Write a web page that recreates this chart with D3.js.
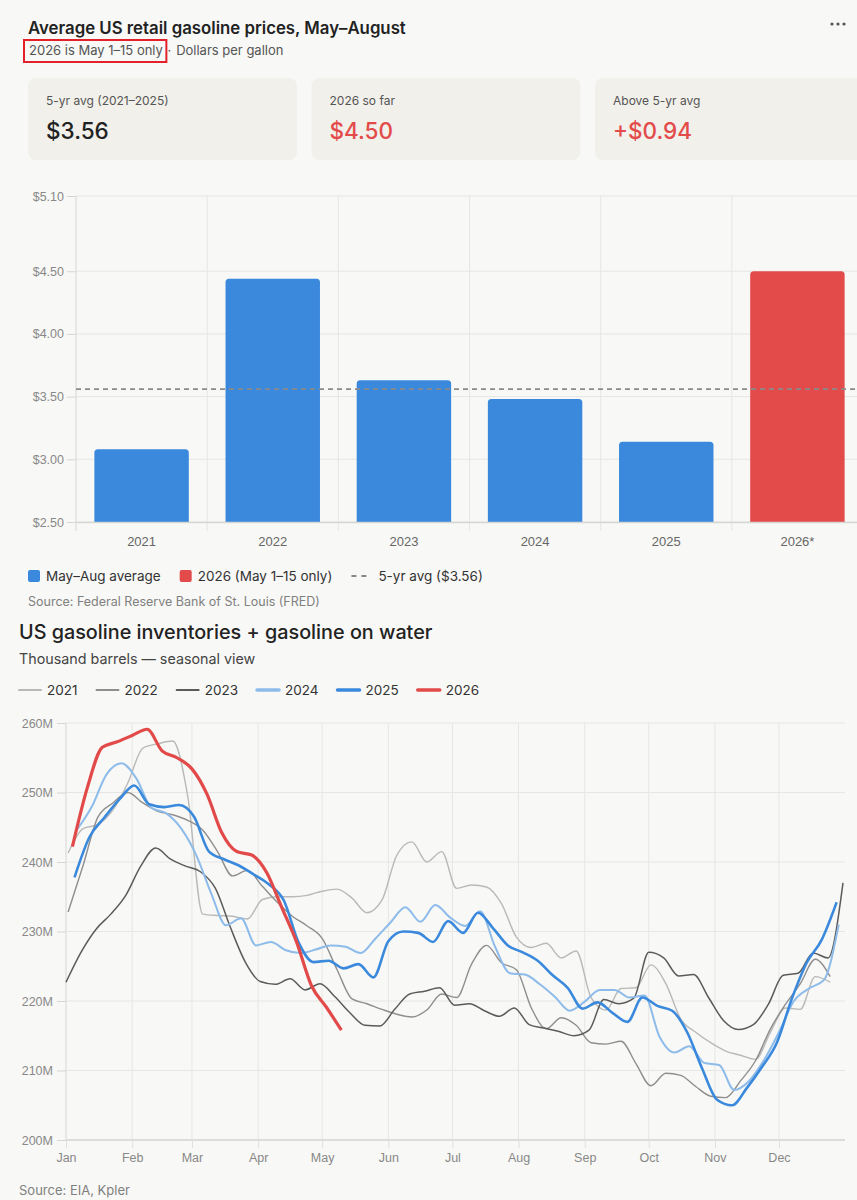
<!DOCTYPE html>
<html>
<head>
<meta charset="utf-8">
<script src="https://cdn.jsdelivr.net/npm/d3@7"></script>
<style>
  body { margin: 0; background: #f8f8f6; }
  svg { display: block; }
  .title { font-family: Inter, "Noto Sans", sans-serif; font-weight: 600; fill: #222; }
  .sub { font-family: Inter, "Noto Sans", sans-serif; fill: #555; }
  .axis text { font-family: "Liberation Sans", Arial, sans-serif; }
</style>
</head>
<body>
<div id="container"></div>
<script>
/* CONSTANTS AND GLOBALS */
const width = 857,
  height = 1200;

// top chart: May-Aug average retail price, $/gal
const barYears = ["2021", "2022", "2023", "2024", "2025", "2026*"];
const barValues = [3.08, 4.44, 3.63, 3.48, 3.14, 4.50];
const fiveYrAvg = 3.56;
const priceTicks = [2.5, 3, 3.5, 4, 4.5, 5.1];

const cardLabels = ["5-yr avg (2021–2025)", "2026 so far", "Above 5-yr avg"];
const cardValues = ["$3.56", "$4.50", "+$0.94"];

// bottom chart: weekly inventories + on water, million barrels
const invYears = ["2021", "2022", "2023", "2024", "2025", "2026"];
const invStartDay = [1, 1, 0, 5, 4, 3];
const inv2021 = [241.3, 244.8, 245.4, 247.5, 251.4, 256.4, 257.0, 257.4, 249.5, 232.5, 232.3, 232.2, 231.8, 234.6, 235.0, 235.0, 235.2, 235.8, 236.1, 234.8, 232.7, 234.5, 241.0, 242.9, 240.0, 241.5, 236.2, 236.7, 236.4, 234.0, 229.2, 227.7, 228.3, 226.2, 227.2, 220.5, 218.7, 221.8, 221.9, 225.2, 222.5, 217.4, 215.5, 214.0, 212.8, 212.2, 211.6, 215.5, 219.0, 218.8, 223.5, 222.7];
const inv2022 = [232.8, 239.5, 246.5, 248.5, 250.0, 248.5, 247.3, 246.8, 246.0, 244.6, 241.5, 238.0, 238.8, 236.5, 234.2, 232.2, 230.8, 229.0, 224.5, 220.3, 219.6, 218.8, 218.1, 217.7, 218.7, 221.0, 220.5, 225.3, 228.0, 225.5, 224.5, 219.0, 216.0, 217.6, 216.5, 214.0, 213.8, 214.2, 211.0, 207.8, 209.6, 209.3, 207.7, 206.3, 206.1, 208.5, 211.4, 216.0, 219.5, 222.5, 226.0, 223.5];
const inv2023 = [222.7, 227.0, 230.3, 232.5, 235.2, 239.4, 242.0, 240.4, 239.4, 238.6, 236.2, 230.6, 225.6, 222.8, 222.4, 223.2, 221.6, 222.5, 220.6, 218.3, 216.5, 216.4, 218.8, 221.0, 221.4, 221.9, 219.4, 219.6, 218.6, 217.8, 219.0, 216.6, 216.1, 215.6, 215.0, 215.8, 220.2, 219.6, 220.4, 227.0, 226.2, 223.6, 223.8, 220.5, 217.2, 215.9, 216.6, 219.5, 223.7, 224.0, 226.9, 226.2, 237.0];
const inv2024 = [244.6, 247.9, 252.6, 254.2, 252.0, 247.8, 247.0, 244.8, 241.0, 235.5, 230.9, 231.9, 228.0, 228.5, 227.3, 226.9, 227.4, 228.0, 227.8, 226.9, 229.0, 231.3, 233.5, 231.4, 233.8, 232.0, 230.8, 232.9, 227.8, 224.0, 223.8, 222.4, 220.6, 218.6, 219.9, 221.6, 221.6, 220.5, 220.8, 214.9, 212.6, 213.5, 211.1, 210.8, 207.2, 208.5, 211.5, 215.5, 220.0, 221.8, 223.0, 231.0];
const inv2025 = [237.8, 243.6, 246.4, 249.0, 251.0, 248.3, 247.9, 248.2, 246.5, 241.5, 240.4, 239.5, 238.2, 236.8, 234.5, 228.4, 225.6, 225.8, 224.7, 225.3, 223.4, 228.6, 230.0, 229.8, 228.5, 231.5, 229.8, 232.7, 230.5, 228.0, 227.0, 225.8, 223.7, 221.9, 218.9, 219.8, 218.3, 217.0, 220.5, 219.3, 218.6, 215.5, 210.3, 205.8, 205.0, 207.5, 210.5, 214.0, 220.3, 225.5, 228.8, 234.2];
const inv2026 = [242.2, 250.7, 256.5, 257.3, 258.2, 259.1, 256.0, 255.0, 253.4, 249.8, 244.2, 241.5, 241.0, 238.5, 233.5, 228.5, 222.2, 219.1, 215.8];
const invTicks = [200, 210, 220, 230, 240, 250, 260];

const invColors = ["#b9b9b9", "#8e8e8e", "#5b5b5b", "#8dbbea", "#3a89dc", "#e24a4a"];
const invWidths = [1.4, 1.4, 1.5, 2, 2.6, 3.2];

const sans = "Inter, 'Noto Sans', sans-serif";
const blue = "#3a89dc", red = "#e34b4b";

/* CREATE SVG ELEMENT */
const svg = d3.select("#container")
  .append("svg")
  .attr("width", width)
  .attr("height", height)

// HEADER
svg.append("text")
  .attr("class", "title")
  .attr("x", 28)
  .attr("y", 34)
  .attr("font-size", 16.8)
  .text("Average US retail gasoline prices, May–August")

const sub = svg.append("text")
  .attr("class", "sub")
  .attr("x", 29)
  .attr("y", 55)
  .attr("font-size", 13)
const subFirst = sub.append("tspan").text("2026 is May 1–15 only")
sub.append("tspan").attr("dx", 5).text("·")
sub.append("tspan").attr("dx", 5).text("Dollars per gallon")

svg.append("rect")
  .attr("x", 24)
  .attr("y", 40)
  .attr("width", subFirst.node().getComputedTextLength() + 9)
  .attr("height", 22)
  .attr("fill", "none")
  .attr("stroke", "#e2212b")
  .attr("stroke-width", 2)

svg.selectAll(".dot")
  .data([0, 1, 2])
  .join("circle")
  .attr("cx", d => 832 + d * 6)
  .attr("cy", 24)
  .attr("r", 1.6)
  .attr("fill", "#555")

// KPI CARDS
const cards = svg.selectAll(".card")
  .data(cardLabels)
  .join("g")
  .attr("class", "card")
  .attr("transform", (d, i) => `translate(${28 + i * 283.5}, 78)`)
cards.append("rect")
  .attr("width", 269)
  .attr("height", 82)
  .attr("rx", 8)
  .attr("fill", "#f1f0ea")
cards.append("text")
  .attr("x", 18)
  .attr("y", 27)
  .attr("font-family", sans)
  .attr("font-size", 12)
  .attr("fill", "#555")
  .text(d => d)
cards.append("text")
  .attr("x", 18)
  .attr("y", 61)
  .attr("font-family", sans)
  .attr("font-size", 22.5)
  .attr("font-weight", 500)
  .attr("fill", (d, i) => i === 0 ? "#222" : red)
  .text((d, i) => cardValues[i])

/* BAR CHART */
const xBar = d3.scaleBand()
  .domain(barYears)
  .range([76, 863])
  .paddingInner(0.28)
  .paddingOuter(0.14)

const yBar = d3.scaleLinear()
  .domain([2.5, 5.1])
  .range([522, 196])

svg.append("g")
  .selectAll("line")
  .data(priceTicks)
  .join("line")
  .attr("x1", 76).attr("x2", 863)
  .attr("y1", d => yBar(d)).attr("y2", d => yBar(d))
  .attr("stroke", "#e6e6e4")

svg.append("g")
  .selectAll("line")
  .data(d3.range(barYears.length + 1))
  .join("line")
  .attr("x1", d => 76 + d * xBar.step()).attr("x2", d => 76 + d * xBar.step())
  .attr("y1", 196).attr("y2", 531)
  .attr("stroke", d => d === 0 ? "#d6d6d4" : "#e6e6e4")

const yBarAxis = d3.axisLeft(yBar)
  .tickValues(priceTicks)
  .tickFormat(d => "$" + d.toFixed(2))
  .tickSize(9)
  .tickSizeOuter(0)
  .tickPadding(3)
const yBarGroup = svg.append("g")
  .attr("class", "axis")
  .attr("transform", `translate(76, 0)`)
  .call(yBarAxis)
yBarGroup.select(".domain").remove()
yBarGroup.selectAll(".tick line").attr("stroke", "#d6d6d4")
yBarGroup.selectAll("text").attr("font-size", 12.5).attr("fill", "#888")

function topRounded(x, y, w, h, r) {
  return `M${x},${y + h}V${y + r}Q${x},${y} ${x + r},${y}H${x + w - r}Q${x + w},${y} ${x + w},${y + r}V${y + h}Z`
}

svg.selectAll(".bar")
  .data(barValues)
  .join("path")
  .attr("class", "bar")
  .attr("fill", (d, i) => i === barValues.length - 1 ? red : blue)
  .attr("d", (d, i) => topRounded(xBar(barYears[i]), yBar(d), xBar.bandwidth(), yBar(2.5) - yBar(d), 3.5))

const xBarAxis = d3.axisBottom(xBar)
  .tickSize(0)
  .tickPadding(15)
const xBarGroup = svg.append("g")
  .attr("class", "axis")
  .attr("transform", `translate(0, 522)`)
  .call(xBarAxis)
xBarGroup.select(".domain").attr("stroke", "#d6d6d4").attr("stroke-width", 1.5)
xBarGroup.selectAll("text").attr("font-size", 13).attr("fill", "#666")

svg.append("line")
  .attr("x1", 76).attr("x2", 863)
  .attr("y1", yBar(fiveYrAvg)).attr("y2", yBar(fiveYrAvg))
  .attr("stroke", "#8a8a8a")
  .attr("stroke-width", 1.8)
  .attr("stroke-dasharray", "5,4")

// BAR LEGEND
const barLegend = [
  { label: "May–Aug average", type: "sq", color: blue },
  { label: "2026 (May 1–15 only)", type: "sq", color: red },
  { label: "5-yr avg ($3.56)", type: "dash", color: "#888" }
]
let lx = 28
barLegend.forEach(item => {
  if (item.type === "sq") {
    svg.append("rect")
      .attr("x", lx).attr("y", 570)
      .attr("width", 12).attr("height", 12).attr("rx", 2)
      .attr("fill", item.color)
    lx += 18
  } else {
    svg.append("line")
      .attr("x1", lx).attr("x2", lx + 16)
      .attr("y1", 576).attr("y2", 576)
      .attr("stroke", item.color)
      .attr("stroke-width", 1.8)
      .attr("stroke-dasharray", "5,5")
    lx += 27
  }
  const t = svg.append("text")
    .attr("x", lx).attr("y", 581)
    .attr("font-family", sans)
    .attr("font-size", 13.5)
    .attr("fill", "#333")
    .text(item.label)
  lx += t.node().getComputedTextLength() + 19
})

svg.append("text")
  .attr("x", 28).attr("y", 606)
  .attr("font-family", sans)
  .attr("font-size", 12.5)
  .attr("fill", "#808080")
  .text("Source: Federal Reserve Bank of St. Louis (FRED)")

/* LINE CHART */
svg.append("text")
  .attr("class", "title")
  .attr("x", 19).attr("y", 639)
  .attr("font-size", 19.8)
  .style("font-weight", 500)
  .text("US gasoline inventories + gasoline on water")

svg.append("text")
  .attr("x", 19).attr("y", 664)
  .attr("font-family", sans)
  .attr("font-size", 14.3)
  .attr("fill", "#444")
  .text("Thousand barrels — seasonal view")

// line legend
let gx = 19
invYears.forEach((yr, i) => {
  svg.append("line")
    .attr("x1", gx).attr("x2", gx + 22)
    .attr("y1", 690).attr("y2", 690)
    .attr("stroke", invColors[i])
    .attr("stroke-width", i < 3 ? 2 : 3.5)
    .attr("stroke-linecap", "round")
  const t = svg.append("text")
    .attr("x", gx + 28).attr("y", 695)
    .attr("font-family", sans)
    .attr("font-size", 13.5)
    .attr("fill", "#333")
    .text(yr)
  gx += 28 + t.node().getComputedTextLength() + 19
})

const xLine = d3.scaleTime()
  .domain([new Date(2021, 0, 1), new Date(2021, 11, 31)])
  .range([66, 843])

const yLine = d3.scaleLinear()
  .domain([200, 260])
  .range([1140, 723])

const months = d3.timeMonth.range(new Date(2021, 0, 1), new Date(2021, 11, 31))

svg.append("g")
  .selectAll("line")
  .data(invTicks)
  .join("line")
  .attr("x1", 66).attr("x2", 845)
  .attr("y1", d => yLine(d)).attr("y2", d => yLine(d))
  .attr("stroke", "#e6e6e4")

svg.append("g")
  .selectAll("line")
  .data(months)
  .join("line")
  .attr("x1", d => xLine(d)).attr("x2", d => xLine(d))
  .attr("y1", 723).attr("y2", 1140)
  .attr("stroke", (d, i) => i === 0 ? "#d6d6d4" : "#e6e6e4")

const yLineAxis = d3.axisLeft(yLine)
  .tickValues(invTicks)
  .tickFormat(d => d + "M")
  .tickSize(9)
  .tickSizeOuter(0)
  .tickPadding(4)
const yLineGroup = svg.append("g")
  .attr("class", "axis")
  .attr("transform", `translate(66, 0)`)
  .call(yLineAxis)
yLineGroup.select(".domain").remove()
yLineGroup.selectAll(".tick line").attr("stroke", "#d6d6d4")
yLineGroup.selectAll("text").attr("font-size", 12.5).attr("fill", "#888")

const xLineAxis = d3.axisBottom(xLine)
  .tickValues(months)
  .tickFormat(d3.timeFormat("%b"))
  .tickSize(8)
  .tickSizeOuter(0)
  .tickPadding(5)
const xLineGroup = svg.append("g")
  .attr("class", "axis")
  .attr("transform", `translate(0, 1140)`)
  .call(xLineAxis)
xLineGroup.select(".domain").attr("stroke", "#d6d6d4").attr("stroke-width", 1.5).attr("d", "M66,0H845")
xLineGroup.selectAll(".tick line").attr("stroke", "#e0e0de")
xLineGroup.selectAll("text").attr("font-size", 12.5).attr("fill", "#888")

// LINE GENERATOR FUNCTION
const lineGen = d3.line()
  .x(d => xLine(d.date))
  .y(d => yLine(d.value))
  .curve(d3.curveMonotoneX)

const invSeries = [inv2021, inv2022, inv2023, inv2024, inv2025, inv2026].map((vals, i) =>
  vals.map((v, w) => ({
    date: d3.timeDay.offset(new Date(2021, 0, 1), invStartDay[i] + 7 * w),
    value: v
  }))
)

svg.selectAll(".trend")
  .data(invSeries)
  .join("path")
  .attr("class", "trend")
  .attr("fill", "none")
  .attr("stroke", (d, i) => invColors[i])
  .attr("stroke-width", (d, i) => invWidths[i])
  .attr("stroke-linejoin", "round")
  .attr("d", d => lineGen(d))

svg.append("text")
  .attr("x", 19).attr("y", 1195)
  .attr("font-family", sans)
  .attr("font-size", 13)
  .attr("fill", "#808080")
  .text("Source: EIA, Kpler")
</script>
</body>
</html>
